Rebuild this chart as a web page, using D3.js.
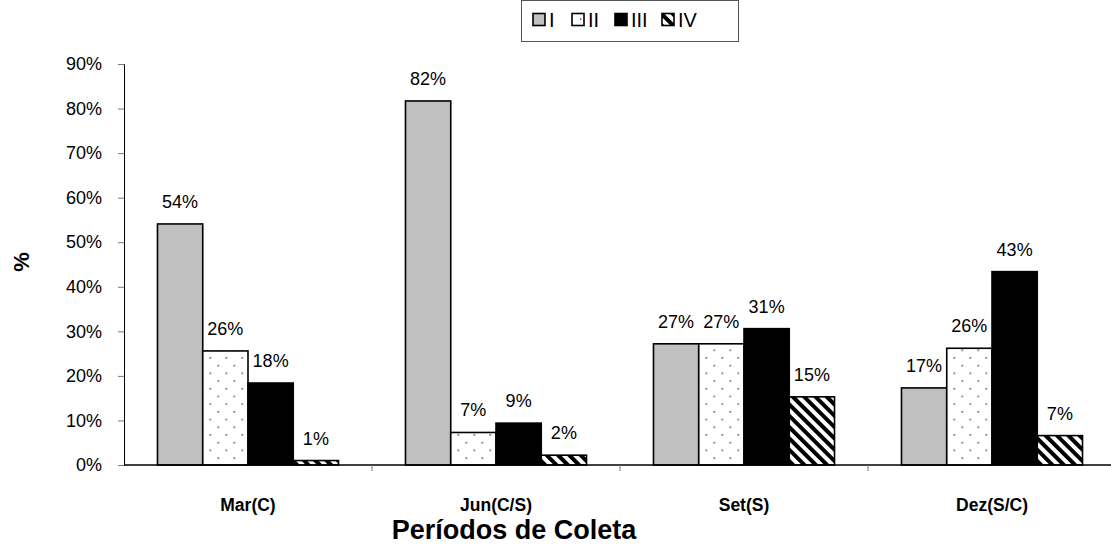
<!DOCTYPE html>
<html><head><meta charset="utf-8">
<script src="https://cdn.jsdelivr.net/npm/d3@7"></script>
<style>html,body{margin:0;padding:0;background:#fff;}svg{display:block;font-family:"Liberation Sans",Arial,sans-serif;}</style>
</head><body>
<svg id="c" width="1111" height="545"></svg>
<script>
const categories = ["Mar(C)", "Jun(C/S)", "Set(S)", "Dez(S/C)"];
const seriesNames = ["I", "II", "III", "IV"];
const valuesI   = [0.541, 0.817, 0.272, 0.173];
const valuesII  = [0.256, 0.073, 0.272, 0.262];
const valuesIII = [0.184, 0.094, 0.306, 0.434];
const valuesIV  = [0.010, 0.022, 0.153, 0.066];
const yTicks = [0, 0.1, 0.2, 0.3, 0.4, 0.5, 0.6, 0.7, 0.8, 0.9];
const xTitle = "Períodos de Coleta";
const yTitle = "%";

const seriesValues = [valuesI, valuesII, valuesIII, valuesIV];
const fills = ["#c0c0c0", "url(#dots)", "#000", "url(#stripes)"];

const svg = d3.select("#c");
const defs = svg.append("defs");
const dots = defs.append("pattern").attr("id","dots").attr("patternUnits","userSpaceOnUse")
  .attr("width",16).attr("height",15.4);
dots.append("rect").attr("width",16).attr("height",15.4).attr("fill","#fff");
dots.append("rect").attr("x",4).attr("y",3).attr("width",1.4).attr("height",1.4).attr("fill","#333");
dots.append("rect").attr("x",12).attr("y",10.7).attr("width",1.4).attr("height",1.4).attr("fill","#333");
const st = defs.append("pattern").attr("id","stripes").attr("patternUnits","userSpaceOnUse")
  .attr("width",8).attr("height",8).attr("patternTransform","rotate(-45)");
st.append("rect").attr("width",8).attr("height",8).attr("fill","#fff");
st.append("rect").attr("width",4).attr("height",8).attr("fill","#000");

const x0 = d3.scaleBand().domain(categories).range([124, 1116]).paddingInner(0.27).paddingOuter(0.135);
const x1 = d3.scaleBand().domain(seriesNames).range([0, x0.bandwidth()]);
const y = d3.scaleLinear().domain([0, 0.9]).range([465, 64]);
const fmt = d3.format(".0%");

// y axis
const yAxis = svg.append("g").attr("transform","translate(124,0)")
  .call(d3.axisLeft(y).tickValues(yTicks).tickFormat(fmt).tickSizeOuter(0).tickSize(6).tickPadding(16));
yAxis.select(".domain").attr("stroke","#000");
yAxis.selectAll(".tick line").attr("stroke","#777");
yAxis.selectAll("text").attr("font-size",18).attr("fill","#000").attr("font-family","Liberation Sans, Arial, sans-serif");

// bars
const groups = svg.append("g").selectAll("g").data(categories).join("g")
  .attr("transform", c => `translate(${x0(c)},0)`);
groups.each(function(c, ci){
  const g = d3.select(this);
  seriesNames.forEach((s, si) => {
    const v = seriesValues[si][ci];
    g.append("rect").attr("x", x1(s)).attr("y", y(v)).attr("width", x1.bandwidth())
      .attr("height", y(0) - y(v)).attr("fill", fills[si]).attr("stroke","#000").attr("stroke-width",1.6);
    g.append("text").attr("x", x1(s) + x1.bandwidth()/2).attr("y", y(v) - 16)
      .attr("text-anchor","middle").attr("font-size",18).attr("fill","#000").text(fmt(v));
  });
});

// x axis
const xAxisG = svg.append("g");
xAxisG.append("line").attr("x1",124).attr("x2",1116).attr("y1",y(0)).attr("y2",y(0)).attr("stroke","#000").attr("stroke-width",1.3);
const bounds = categories.slice(1).map(c => x0(c) - x0.step()*x0.paddingInner()/2);
xAxisG.selectAll("line.t").data(bounds).join("line").attr("class","t")
  .attr("x1",d=>d).attr("x2",d=>d).attr("y1",y(0)).attr("y2",y(0)+6).attr("stroke","#777");
xAxisG.selectAll("text").data(categories).join("text")
  .attr("x", c => x0(c) + x0.bandwidth()/2).attr("y", 511)
  .attr("text-anchor","middle").attr("font-size",17.5).attr("font-weight","bold").text(c => c);

// titles
svg.append("text").attr("x",514).attr("y",539).attr("text-anchor","middle")
  .attr("font-size",27).attr("font-weight","bold").text(xTitle);
svg.append("text").attr("transform","translate(29,262) rotate(-90)").attr("text-anchor","middle")
  .attr("font-size",22).attr("font-weight","bold").text(yTitle);

// legend
const lg = svg.append("g");
lg.append("rect").attr("x",521.5).attr("y",0.5).attr("width",217).attr("height",41)
  .attr("fill","#fff").attr("stroke","#555").attr("stroke-width",1);
const legX = [533, 572, 615, 662];
seriesNames.forEach((s, i) => {
  lg.append("rect").attr("x",legX[i]).attr("y",13.5).attr("width",12).attr("height",12)
    .attr("fill",fills[i]).attr("stroke","#000").attr("stroke-width",1.6);
  lg.append("text").attr("x",legX[i]+16).attr("y",27).attr("font-size",20).text(s);
});
</script>
</body></html>
